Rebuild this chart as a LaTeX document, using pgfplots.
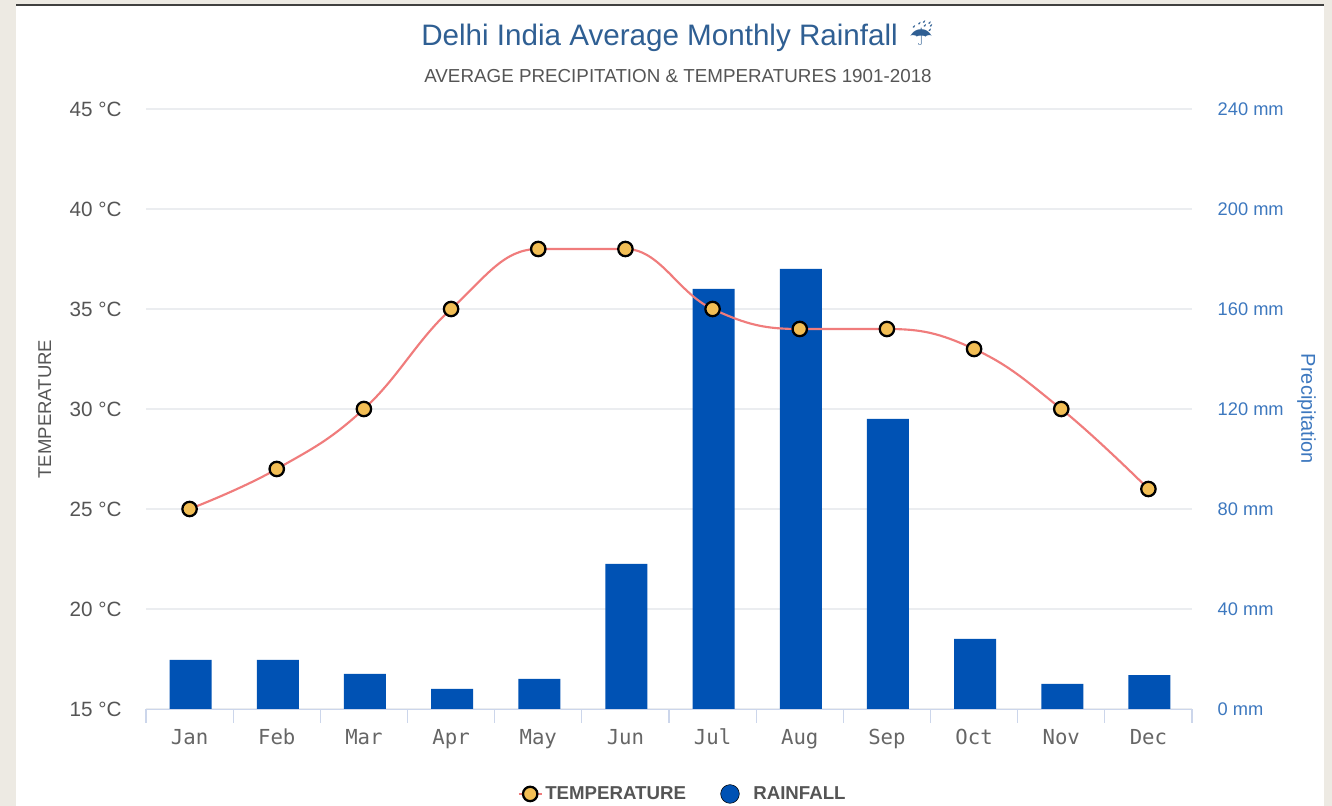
\documentclass[border=0pt]{standalone}
\usepackage{pgfplots}
\pgfplotsset{compat=1.18}
\usepackage{fontspec}
\setmainfont{Liberation Sans}
\newfontfamily\monof{DejaVu Sans Mono}
\newfontfamily\symf{DejaVu Sans}
\definecolor{bgc}{HTML}{EDEAE3}
\definecolor{titlec}{HTML}{2F5F93}
\definecolor{subc}{HTML}{555555}
\definecolor{tickc}{HTML}{555555}
\definecolor{xlab}{HTML}{666666}
\definecolor{bluetxt}{HTML}{3D78BF}
\definecolor{barc}{HTML}{0052B4}
\definecolor{linec}{HTML}{F07C7C}
\definecolor{markc}{HTML}{F2BE55}
\definecolor{gridc}{HTML}{EBEDF0}
\definecolor{axc}{HTML}{CCD6EB}
\makeatletter
% plot handler: monotone spline through the data points, flat at local extremes
\newcount\hc@n
\newcount\hc@i
\def\hc@v#1#2{\csname hc@#1\the\numexpr#2\relax\endcsname}
\def\hc@start{\global\hc@n=0\relax}
\def\hc@point#1{\pgf@process{#1}\global\advance\hc@n by 1\relax
  \expandafter\xdef\csname hc@x\the\hc@n\endcsname{\pgf@sys@tonumber\pgf@x}%
  \expandafter\xdef\csname hc@y\the\hc@n\endcsname{\pgf@sys@tonumber\pgf@y}}
\def\hc@step{%
  \ifnum\hc@i>\hc@n\else
    \edef\hcX{\hc@v{x}{\hc@i}}\edef\hcY{\hc@v{y}{\hc@i}}%
    \ifnum\hc@i=\hc@n\relax
      \let\nlx\hcX\let\nly\hcY\let\nrx\hcX\let\nry\hcY
    \else
      \edef\XL{\hc@v{x}{\hc@i-1}}\edef\YL{\hc@v{y}{\hc@i-1}}%
      \edef\XR{\hc@v{x}{\hc@i+1}}\edef\YR{\hc@v{y}{\hc@i+1}}%
      \pgfmathsetmacro\nlx{(1.5*\hcX+\XL)/2.5}%
      \pgfmathsetmacro\lcy{(1.5*\hcY+\YL)/2.5}%
      \pgfmathsetmacro\nrx{(1.5*\hcX+\XR)/2.5}%
      \pgfmathsetmacro\rcy{(1.5*\hcY+\YR)/2.5}%
      \pgfmathsetmacro\corr{(\rcy-\lcy)*(\nrx-\hcX)/(\nrx-\nlx)+\hcY-\rcy}%
      \pgfmathsetmacro\lcy{\lcy+\corr}%
      \pgfmathsetmacro\rcy{\rcy+\corr}%
      \pgfmathsetmacro\nly{and(\lcy>\YL,\lcy>\hcY)?max(\YL,\hcY):(and(\lcy<\YL,\lcy<\hcY)?min(\YL,\hcY):\lcy)}%
      \pgfmathsetmacro\rcy{(\nly==\lcy)?\rcy:2*\hcY-\nly}%
      \pgfmathsetmacro\nry{and(\rcy>\YR,\rcy>\hcY)?max(\YR,\hcY):(and(\rcy<\YR,\rcy<\hcY)?min(\YR,\hcY):\rcy)}%
      \pgfmathsetmacro\nly{(\nry==\rcy)?\nly:2*\hcY-\nry}%
    \fi
    \pgfpathcurveto{\pgfpoint{\hcpx pt}{\hcpy pt}}{\pgfpoint{\nlx pt}{\nly pt}}{\pgfpoint{\hcX pt}{\hcY pt}}%
    \edef\hcpx{\nrx}\edef\hcpy{\nry}%
    \advance\hc@i by 1\relax
    \expandafter\hc@step
  \fi}
\def\hc@finish{%
  \edef\hcpx{\hc@v{x}{1}}\edef\hcpy{\hc@v{y}{1}}%
  \pgfpathmoveto{\pgfpoint{\hcpx pt}{\hcpy pt}}%
  \hc@i=2\relax
  \hc@step}
\pgfdeclareplothandler{\pgfplothandlerhcspline}{}{%
  start=\hc@start,
  point macro=\hc@point,
  end=\hc@finish}
\tikzset{hc spline/.code={\let\tikz@plot@handler=\pgfplothandlerhcspline}}
\makeatother
\pgfplotsset{
  common/.style={
    at={(109.5pt,72.75pt)},anchor=south west,
    scale only axis,width=784.5pt,height=450pt,
    xmin=-0.5,xmax=11.5,
  }
}
\begin{document}
\begin{tikzpicture}[x=0.75pt,y=0.75pt]
\useasboundingbox (0,0) rectangle (1332,806);
\fill[bgc] (0,0) rectangle (1332,806);
\fill[white] (16,0) rectangle (1324,800);
\fill[black!75] (16,799.5) rectangle (1324,802);
\node[text=titlec,font=\fontsize{22.2}{26}\selectfont,anchor=base west,inner sep=0pt] at (421,760) {Delhi India Average Monthly Rainfall};
\node[text=titlec,font=\symf\fontsize{20}{24}\selectfont,anchor=base] at (921,760) {☔};
\node[text=subc,font=\fontsize{14.1}{16}\selectfont,anchor=base] at (678,723) {AVERAGE PRECIPITATION \& TEMPERATURES 1901-2018};
% bars, right axis
\begin{axis}[common,
  ymin=0,ymax=240,
  axis x line=bottom,axis y line*=right,
  x axis line style={draw=axc,-},
  y axis line style={draw=none},
  ytick={0,40,...,240},
  yticklabel={\pgfmathprintnumber{\tick} mm},
  /pgf/number format/assume math mode=true,
  yticklabel style={font=\fontsize{13.7}{15}\selectfont,text=bluetxt,anchor=west,xshift=11.5pt},
  ymajorgrids,grid style={draw=gridc,line width=0.9pt},
  major y tick style={draw=none},
  xtick={0,...,11},
  xticklabels={Jan,Feb,Mar,Apr,May,Jun,Jul,Aug,Sep,Oct,Nov,Dec},
  xticklabel style={font=\monof\fontsize{15.5}{18}\selectfont,text=xlab,text height=11.5pt,text depth=3pt,yshift=-7.5pt},
  major x tick style={draw=none},
  minor xtick={-0.5,0.5,...,11.5},
  minor tick length=10.5pt,
  minor x tick style={draw=axc,line width=0.8pt},
  xtick pos=lower,
  tick align=outside,
  ylabel={Precipitation},
  ylabel style={font=\fontsize{15}{18}\selectfont,text=bluetxt,at={(axis description cs:1.1094,0.5)},anchor=center,rotate=180},
  ybar,bar width=31.5pt,bar shift=0.75pt,
]
\addplot[fill=barc,draw=none] coordinates {
(0,19.6)(1,19.6)(2,14)(3,8)(4,12)(5,58)(6,168)(7,176)(8,116)(9,28)(10,10)(11,13.5)};
\end{axis}
% temperature, left axis
\begin{axis}[common,
  ymin=15,ymax=45,
  axis x line=none,axis y line*=left,
  y axis line style={draw=none},
  ytick={15,20,...,45},
  yticklabel={\pgfmathprintnumber{\tick} °C},
  /pgf/number format/assume math mode=true,
  yticklabel style={font=\fontsize{15.5}{18}\selectfont,text=tickc,anchor=east,xshift=-14.75pt},
  major y tick style={draw=none},
  ylabel={TEMPERATURE},
  ylabel style={font=\fontsize{13.9}{16}\selectfont,text=subc,at={(axis description cs:-0.0966,0.5)},anchor=center},
  legend style={at={(axis description cs:0.5134,-0.1416)},anchor=center,draw=none,fill=none,
    legend columns=2,font=\bfseries\fontsize{14}{17}\selectfont,text=subc,
    /tikz/every even column/.append style={column sep=24pt}},
]
\addplot[linec,line width=1.6pt,hc spline,mark=*,
  mark options={solid,draw=black,line width=1.7pt,fill=markc},mark size=5.4pt] coordinates {
(0,25)(1,27)(2,30)(3,35)(4,38)(5,38)(6,35)(7,34)(8,34)(9,33)(10,30)(11,26)};
\addlegendentry{TEMPERATURE}
\addlegendimage{only marks,mark=*,mark size=7pt,mark options={draw=none,fill=barc}}
\addlegendentry{\hspace{8.5pt}RAINFALL}
\end{axis}
\end{tikzpicture}
\end{document}
